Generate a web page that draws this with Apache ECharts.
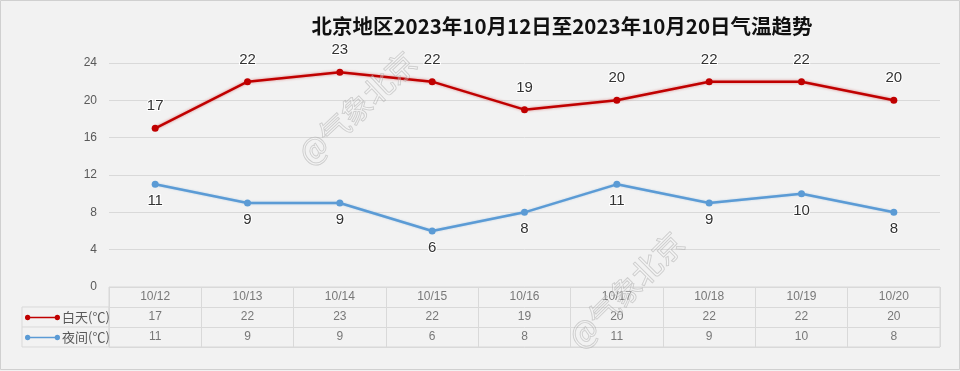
<!DOCTYPE html>
<html><head><meta charset="utf-8">
<script src="https://cdn.jsdelivr.net/npm/echarts@6/dist/echarts.min.js"></script>
<style>html,body{margin:0;padding:0;background:#f2f2f2}#c{width:960px;height:371px}</style>
</head><body><div id="c"></div>
<script>
const titleText = '北京地区2023年10月12日至2023年10月20日气温趋势';
const categories = ['10/12','10/13','10/14','10/15','10/16','10/17','10/18','10/19','10/20'];
const dayName = '白天(℃)';
const nightName = '夜间(℃)';
const dayTemps = [17,22,23,22,19,20,22,22,20];
const nightTemps = [11,9,9,6,8,11,9,10,8];
const yTicks = [0,4,8,12,16,20,24];
const watermark = '@气象北京';

const chart = echarts.init(document.getElementById('c'));
const rows = ['hdr', dayName, nightName];
const tableData = [];
categories.forEach((c,i)=>{
  tableData.push({value:[c,'hdr'], txt:c});
  tableData.push({value:[c,dayName], txt:String(dayTemps[i])});
  tableData.push({value:[c,nightName], txt:String(nightTemps[i])});
});
const cjk = '"Noto Sans CJK SC", "Noto Sans", sans-serif';
const legendIcon = 'path://M0,5a5,5 0 1,1 10,0a5,5 0 1,1 -10,0Z M5,3.4H61V6.6H5Z M56,5a5,5 0 1,1 10,0a5,5 0 1,1 -10,0Z';
const lblFont = '"Liberation Sans", "DejaVu Sans", sans-serif';
chart.setOption({
  backgroundColor:'#f2f2f2',
  animation:false,
  title:{text:titleText,left:557,top:11,textAlign:'center',
    textStyle:{fontFamily:cjk,fontWeight:'bold',fontSize:20.5,color:'#111'}},
  legend:{orient:'vertical',left:20,top:308,itemWidth:35,itemHeight:7,itemGap:7,padding:[3,5],
    icon:legendIcon,textStyle:{fontSize:13,color:'#595959',fontFamily:cjk,padding:[0,0,0,-3]},
    data:[dayName,nightName]},
  grid:[
    {left:109,right:20,top:63,bottom:84},
    {left:109,right:20,top:287,height:60,show:true,borderColor:'#d9d9d9',borderWidth:1}
  ],
  xAxis:[
    {type:'category',data:categories,gridIndex:0,boundaryGap:true,axisLine:{show:false},axisTick:{show:false},axisLabel:{show:false}},
    {type:'category',data:categories,gridIndex:1,boundaryGap:true,axisLine:{show:false},axisTick:{show:false},axisLabel:{show:false},
      splitLine:{show:true,interval:0,lineStyle:{color:'#d9d9d9'}}}
  ],
  yAxis:[
    {type:'value',gridIndex:0,min:0,max:24,interval:4,axisLine:{show:false},axisTick:{show:false},
      axisLabel:{color:'#595959',fontSize:12,margin:12,fontFamily:lblFont},
      splitLine:{lineStyle:{color:'#d9d9d9'}}},
    {type:'category',data:rows,gridIndex:1,inverse:true,axisLine:{show:false},axisTick:{show:false},axisLabel:{show:false},
      splitLine:{show:true,interval:0,lineStyle:{color:'#d9d9d9'}}}
  ],
  graphic:[
    {type:'rect',shape:{x:22,y:307,width:87,height:40},style:{fill:'none',stroke:'#d9d9d9',lineWidth:1},z:1},
    {type:'line',shape:{x1:22,y1:327,x2:109,y2:327},style:{stroke:'#d9d9d9',lineWidth:1},z:1},
    {type:'rect',shape:{x:0.5,y:0.5,width:959,height:369},style:{fill:'none',stroke:'#d0d0d0',lineWidth:1},z:1},
    {type:'text',x:357,y:108,rotation:Math.PI*0.24,z:100,
      style:{text:watermark,font:'30px "Noto Sans CJK SC"',fill:'rgba(255,255,255,0.25)',stroke:'rgba(150,150,150,0.45)',lineWidth:1,textAlign:'center',textVerticalAlign:'middle'}},
    {type:'text',x:626,y:290,rotation:Math.PI*0.25,z:100,
      style:{text:watermark,font:'30px "Noto Sans CJK SC"',fill:'rgba(255,255,255,0.25)',stroke:'rgba(150,150,150,0.45)',lineWidth:1,textAlign:'center',textVerticalAlign:'middle'}}
  ],
  series:[
    {name:dayName,type:'line',data:dayTemps,xAxisIndex:0,yAxisIndex:0,color:'#c00000',
      symbol:'circle',symbolSize:7,
      lineStyle:{width:2.5,color:'#c00000',shadowColor:'rgba(192,0,0,0.45)',shadowBlur:3},
      label:{show:true,position:'top',distance:11,fontSize:15,color:'#333',fontFamily:lblFont,
        textBorderColor:'#fff',textBorderWidth:2}},
    {name:nightName,type:'line',data:nightTemps,xAxisIndex:0,yAxisIndex:0,color:'#5b9bd5',
      symbol:'circle',symbolSize:7,
      lineStyle:{width:2.5,color:'#5b9bd5',shadowColor:'rgba(91,155,213,0.4)',shadowBlur:2},
      label:{show:true,position:'bottom',distance:6,fontSize:15,color:'#333',fontFamily:lblFont,
        textBorderColor:'#fff',textBorderWidth:2}},
    {type:'scatter',xAxisIndex:1,yAxisIndex:1,data:tableData,symbolSize:0,silent:true,
      label:{show:true,position:'inside',formatter:p=>p.data.txt,fontSize:12,color:'#595959',fontFamily:lblFont}}
  ]
});
</script></body></html>
